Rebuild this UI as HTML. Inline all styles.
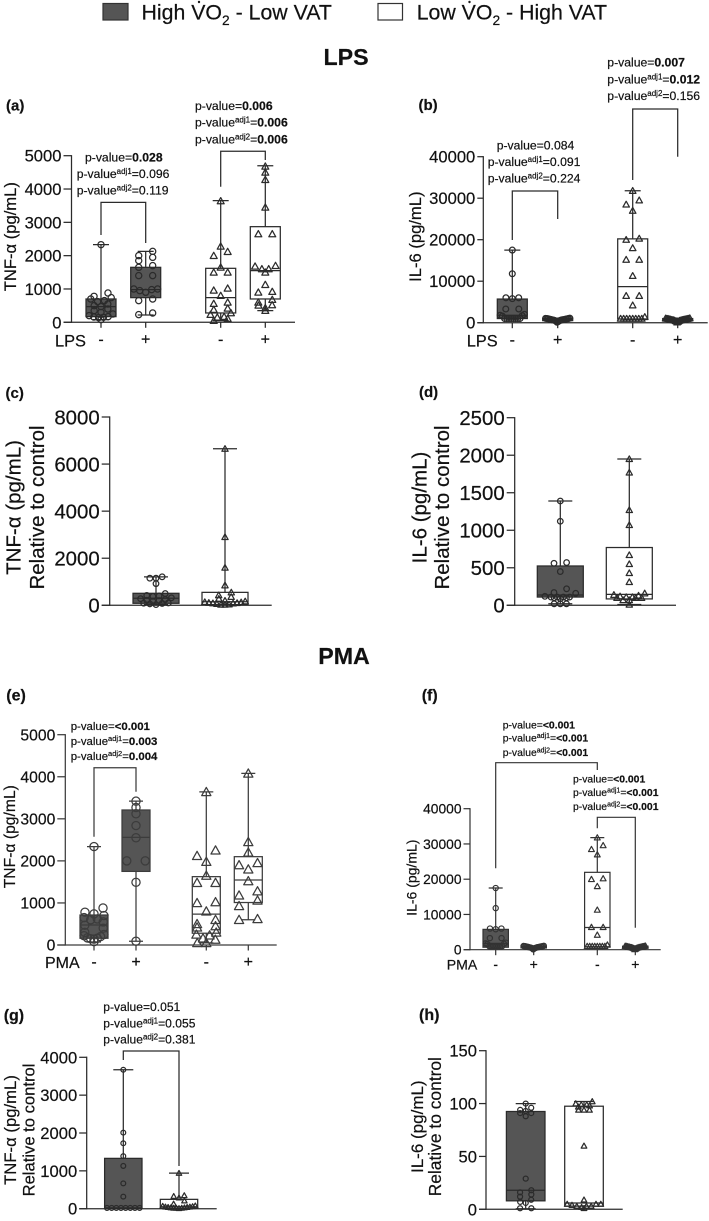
<!DOCTYPE html>
<html lang="en">
<head>
<meta charset="utf-8">
<title>TNF-α and IL-6 box plots</title>
<style>
html,body{margin:0;padding:0;background:#fff;}
svg{display:block;filter:blur(0.3px);}
text{font-family:"Liberation Sans",sans-serif;fill:#111;stroke:#111;stroke-width:0.2px;}
.pv .b{font-weight:bold;}
.lab{font-weight:bold;}
.ttl{font-weight:bold;font-size:23.2px;text-anchor:middle;}
</style>
</head>
<body>
<svg id="figure" width="709" height="1221" viewBox="0 0 709 1221" xmlns="http://www.w3.org/2000/svg">
<rect width="709" height="1221" fill="#fff"/>

<g>
  <g>
    <rect x="103" y="3.5" width="25" height="16.5" fill="#555" stroke="#333" stroke-width="1.2"/>
    <text x="141.5" y="19.3" font-size="21.3">High VO<tspan dy="5.5" font-size="13.8">2</tspan><tspan dy="-5.5"> - Low VAT</tspan></text>
    <circle cx="199" cy="2" r="1.2" fill="#1c1c1c"/>
  </g>
  <g>
    <rect x="378" y="3.5" width="24.5" height="16.5" fill="#fff" stroke="#333" stroke-width="1.2"/>
    <text x="416.7" y="19.3" font-size="21.3">Low VO<tspan dy="5.5" font-size="13.8">2</tspan><tspan dy="-5.5"> - High VAT</tspan></text>
    <circle cx="469.5" cy="2" r="1.2" fill="#1c1c1c"/>
  </g>
</g>

<text class="ttl" x="346" y="65">LPS</text>
<text class="ttl" x="344" y="664">PMA</text>

<text class="lab" x="6" y="110.5" font-size="15">(a)</text>
<text class="lab" x="418.5" y="110" font-size="15">(b)</text>
<text class="lab" x="5.5" y="398" font-size="15">(c)</text>
<text class="lab" x="419" y="397" font-size="15">(d)</text>
<text class="lab" x="6.3" y="700.5" font-size="16">(e)</text>
<text class="lab" x="421.7" y="700.5" font-size="16">(f)</text>
<text class="lab" x="3.7" y="1020.5" font-size="16">(g)</text>
<text class="lab" x="419" y="1020" font-size="16">(h)</text>

<g id="panel-a">
  <text transform="translate(16,236.7) rotate(-90)" text-anchor="middle" font-size="16.6">TNF-α (pg/mL)</text>
  <text x="55" y="346.7" font-size="16.4">LPS</text>
  <g class="pv" font-size="12.2">
    <text x="85" y="161.7">p-value=<tspan class="b">0.028</tspan></text>
    <text x="76.7" y="178">p-value<tspan dy="-4" font-size="8">adj1</tspan><tspan dy="4">=0.096</tspan></text>
    <text x="76.7" y="194.5">p-value<tspan dy="-4" font-size="8">adj2</tspan><tspan dy="4">=0.119</tspan></text>
  </g>
  <g class="pv" font-size="12.2">
    <text x="195" y="110">p-value=<tspan class="b">0.006</tspan></text>
    <text x="195" y="126.7">p-value<tspan dy="-4" font-size="8">adj1</tspan><tspan dy="4">=</tspan><tspan class="b">0.006</tspan></text>
    <text x="195" y="143.3">p-value<tspan dy="-4" font-size="8">adj2</tspan><tspan dy="4">=</tspan><tspan class="b">0.006</tspan></text>
  </g>
</g>

<g id="panel-b">
  <text transform="translate(421,236.7) rotate(-90)" text-anchor="middle" font-size="16.6">IL-6 (pg/mL)</text>
  <text x="466.7" y="346.7" font-size="16.4">LPS</text>
  <g class="pv" font-size="12.2">
    <text x="496.7" y="149.3">p-value=0.084</text>
    <text x="487.7" y="166">p-value<tspan dy="-4" font-size="8">adj1</tspan><tspan dy="4">=0.091</tspan></text>
    <text x="487.7" y="182.7">p-value<tspan dy="-4" font-size="8">adj2</tspan><tspan dy="4">=0.224</tspan></text>
  </g>
  <g class="pv" font-size="12.2">
    <text x="607.3" y="66.7">p-value=<tspan class="b">0.007</tspan></text>
    <text x="607.3" y="83.3">p-value<tspan dy="-4" font-size="8">adj1</tspan><tspan dy="4">=</tspan><tspan class="b">0.012</tspan></text>
    <text x="607.3" y="100">p-value<tspan dy="-4" font-size="8">adj2</tspan><tspan dy="4">=0.156</tspan></text>
  </g>
</g>

<g id="panel-c">
  <text transform="translate(20.7,507.5) rotate(-90)" text-anchor="middle" font-size="20.5">TNF-α (pg/mL)</text>
  <text transform="translate(44,507.5) rotate(-90)" text-anchor="middle" font-size="20.5">Relative to control</text>
</g>

<g id="panel-d">
  <text transform="translate(426.7,507.5) rotate(-90)" text-anchor="middle" font-size="20.5">IL-6 (pg/mL)</text>
  <text transform="translate(449,507.5) rotate(-90)" text-anchor="middle" font-size="20.5">Relative to control</text>
</g>

<g id="panel-e">
  <text transform="translate(15,836.7) rotate(-90)" text-anchor="middle" font-size="15.7">TNF-α (pg/mL)</text>
  <text x="45" y="968" font-size="16">PMA</text>
  <g class="pv" font-size="11.4">
    <text x="70.7" y="730">p-value=<tspan class="b">&lt;0.001</tspan></text>
    <text x="70.7" y="745">p-value<tspan dy="-4" font-size="7.5">adj1</tspan><tspan dy="4">=</tspan><tspan class="b">0.003</tspan></text>
    <text x="70.7" y="760">p-value<tspan dy="-4" font-size="7.5">adj2</tspan><tspan dy="4">=</tspan><tspan class="b">0.004</tspan></text>
  </g>
</g>

<g id="panel-f">
  <text transform="translate(416.7,877.7) rotate(-90)" text-anchor="middle" font-size="14">IL-6 (pg/mL)</text>
  <text x="446.7" y="969.3" font-size="14.1">PMA</text>
  <g class="pv" font-size="10.4">
    <text x="502.7" y="728.3">p-value=<tspan class="b">&lt;0.001</tspan></text>
    <text x="502.7" y="741.7">p-value<tspan dy="-3.5" font-size="7">adj1</tspan><tspan dy="3.5">=</tspan><tspan class="b">&lt;0.001</tspan></text>
    <text x="502.7" y="756">p-value<tspan dy="-3.5" font-size="7">adj2</tspan><tspan dy="3.5">=</tspan><tspan class="b">&lt;0.001</tspan></text>
  </g>
  <g class="pv" font-size="10.4">
    <text x="573" y="782.3">p-value=<tspan class="b">&lt;0.001</tspan></text>
    <text x="573" y="796">p-value<tspan dy="-3.5" font-size="7">adj1</tspan><tspan dy="3.5">=</tspan><tspan class="b">&lt;0.001</tspan></text>
    <text x="573" y="810">p-value<tspan dy="-3.5" font-size="7">adj2</tspan><tspan dy="3.5">=</tspan><tspan class="b">&lt;0.001</tspan></text>
  </g>
</g>

<g id="panel-g">
  <text transform="translate(16,1130) rotate(-90)" text-anchor="middle" font-size="16.7">TNF-α (pg/mL)</text>
  <text transform="translate(34.3,1130) rotate(-90)" text-anchor="middle" font-size="16.6">Relative to control</text>
  <g class="pv" font-size="12.1">
    <text x="103.3" y="1011">p-value=0.051</text>
    <text x="103.3" y="1027.3">p-value<tspan dy="-4" font-size="8">adj1</tspan><tspan dy="4">=0.055</tspan></text>
    <text x="103.3" y="1043.3">p-value<tspan dy="-4" font-size="8">adj2</tspan><tspan dy="4">=0.381</tspan></text>
  </g>
</g>

<g id="panel-h">
  <text transform="translate(423,1126.7) rotate(-90)" text-anchor="middle" font-size="17">IL-6 (pg/mL)</text>
  <text transform="translate(441,1126.7) rotate(-90)" text-anchor="middle" font-size="17.4">Relative to control</text>
</g>
</svg>

<script>
// ---------- Panel data ----------
const fourCategories = ['-', '+', '-', '+'];
const twoCategories = ['', ''];

const aTicks = [0, 1000, 2000, 3000, 4000, 5000];
const aMin = [80, 220, 50, 350];
const aQ1 = [170, 740, 280, 700];
const aMedian = [470, 980, 740, 1550];
const aQ3 = [700, 1650, 1620, 2870];
const aMax = [2330, 2130, 3650, 4700];
const aPoints = [
  [2330, 880, 780, 740, 700, 650, 620, 550, 500, 470, 400, 350, 300, 250, 200, 170, 160, 150, 140, 80],
  [2130, 2000, 1950, 1850, 1700, 1650, 1400, 1400, 1000, 1000, 980, 950, 900, 700, 650, 280, 230],
  [3640, 2280, 2120, 2000, 1650, 1500, 1500, 1020, 960, 800, 600, 560, 420, 380, 280, 230, 170, 150, 110, 50],
  [4680, 4500, 4280, 3450, 2650, 2650, 1700, 1680, 1600, 1600, 1500, 1130, 920, 900, 680, 600, 520, 510, 430, 350]
];
const aBrackets = [[0, 1, 3601, 2620, 2380], [2, 3, 5132, 4070, 4871]];

const bTicks = [0, 10000, 20000, 30000, 40000];
const bMin = [900, 100, 800, 100];
const bQ1 = [1000, 500, 900, 500];
const bMedian = [1800, 800, 8700, 800];
const bQ3 = [5700, 1000, 20200, 1000];
const bMax = [17500, 1100, 31800, 1100];
const bPoints = [
  [17500, 11800, 6000, 6000, 5800, 3300, 3300, 2000, 1800, 1700, 1600, 1000, 1000, 1000, 1000, 1000, 1000, 1000, 1000],
  [1100, 1050, 1000, 1000, 950, 950, 900, 850, 800, 800, 750, 700, 700, 650, 600, 550, 500, 400, 300, 100],
  [31800, 29500, 28500, 27000, 20300, 20000, 18000, 15200, 15200, 11300, 6500, 6500, 4200, 1400, 1000, 1000, 1000, 1000, 1000, 1000, 1000, 1000],
  [1100, 1050, 1000, 1000, 950, 950, 900, 850, 800, 800, 750, 700, 700, 650, 600, 550, 500, 400, 300, 100]
];
const bBrackets = [[0, 1, 31735, 19928, 24988], [2, 3, 51494, 34386, 40000]];

const cTicks = [0, 2000, 4000, 6000, 8000];
const cMin = [30, 30];
const cQ1 = [85, 30];
const cMedian = [300, 150];
const cQ3 = [510, 550];
const cMax = [1210, 6650];
const cPoints = [
  [1210, 1150, 1150, 920, 500, 420, 400, 380, 320, 280, 250, 210, 200, 170, 100, 90, 80, 60, 30],
  [6650, 2900, 1600, 850, 550, 430, 360, 280, 200, 170, 140, 130, 110, 100, 90, 80, 60, 40, 30, 30]
];

const dTicks = [0, 500, 1000, 1500, 2000, 2500];
const dMin = [20, 10];
const dQ1 = [110, 85];
const dMedian = [138, 146];
const dQ3 = [524, 770];
const dMax = [1390, 1950];
const dPoints = [
  [1390, 1120, 570, 560, 450, 220, 170, 160, 120, 110, 110, 110, 110, 100, 100, 90, 20, 20, 20],
  [1950, 1770, 1270, 1070, 670, 550, 430, 310, 160, 140, 130, 120, 110, 110, 100, 100, 100, 70, 70, 10]
];

const eTicks = [0, 1000, 2000, 3000, 4000, 5000];
const eMin = [70, 90, 50, 600];
const eQ1 = [160, 1750, 280, 1010];
const eMedian = [475, 2560, 735, 1545];
const eQ3 = [713, 3210, 1625, 2100];
const eMax = [2340, 3420, 3640, 4080];
const ePoints = [
  [2340, 880, 780, 740, 700, 650, 620, 600, 550, 470, 400, 300, 250, 220, 200, 170, 160, 150, 140, 80],
  [3420, 3270, 3120, 2840, 2550, 2000, 2000, 1490, 90],
  [3640, 2250, 2120, 1980, 1650, 1480, 1480, 1020, 1000, 800, 600, 500, 450, 420, 300, 250, 230, 160, 130, 50, 50],
  [4080, 2450, 2200, 1950, 1900, 1800, 1520, 1280, 1180, 1060, 930, 620, 600]
];
const eBrackets = [[0, 1, 4215, 2575, 3645]];

const fTicks = [0, 10000, 20000, 30000, 40000];
const fMin = [900, 100, 800, 100];
const fQ1 = [700, 500, 850, 500];
const fMedian = [1800, 800, 6300, 800];
const fQ3 = [5770, 1000, 21950, 1000];
const fMax = [17500, 1100, 31800, 1100];
const fPoints = [
  [17500, 11800, 6000, 6000, 5800, 3300, 3300, 2000, 1800, 1700, 1600, 1000, 1000, 1000, 1000, 1000, 1000, 1000, 1000],
  [1100, 1050, 1000, 1000, 950, 950, 900, 850, 800, 800, 750, 700, 700, 650, 600, 550, 500, 400, 300, 100],
  [31800, 29600, 28500, 27000, 20200, 20000, 18000, 11300, 6400, 6400, 4200, 1400, 1000, 1000, 1000, 1000, 1000, 1000, 1000, 1000],
  [1100, 1050, 1000, 1000, 950, 950, 900, 850, 800, 800, 750, 700, 700, 650, 600, 550, 500, 400, 300, 100]
];
const fBrackets = [[0, 2, 53050, 23092, 50979], [2, 3, 37560, 34440, 6241]];

const gTicks = [0, 1000, 2000, 3000, 4000];
const gMin = [20, 10];
const gQ1 = [20, 10];
const gMedian = [20, 50];
const gQ3 = [1330, 247];
const gMax = [3670, 940];
const gPoints = [
  [3670, 2010, 1730, 1390, 1130, 670, 320, 20, 20, 20, 20, 20, 20, 20, 20],
  [940, 350, 330, 290, 210, 130, 80, 70, 60, 50, 50, 40, 40, 30, 30, 20, 20, 20, 10]
];
const gBrackets = [[0, 1, 4166, 3929, 1128]];

const hTicks = [0, 50, 100, 150];
const hMin = [0.5, 1];
const hQ1 = [8, 3];
const hMedian = [18, 6];
const hQ3 = [92.5, 97.5];
const hMax = [100, 102];
const hPoints = [
  [100, 96, 94, 93, 91, 91, 88, 29, 18, 16, 14, 12, 9, 7, 6, 1, 1],
  [102, 100, 99, 99, 98, 97, 94, 94, 94, 60, 9, 5, 5, 5, 4, 3, 3, 3, 2, 1]
];

// ---------- Rendering ----------
const SVGNS = 'http://www.w3.org/2000/svg';
function mk(tag, attrs, parent) {
  const el = document.createElementNS(SVGNS, tag);
  for (const k in attrs) el.setAttribute(k, attrs[k]);
  parent.appendChild(el);
  return el;
}

// Lay points out as rows of a swarm; within a row the lowest values sit
// at the centre and the highest at the edges.
function swarm(values, y, r, maxOff) {
  const sorted = values.slice().sort((p, q) => q - p);
  const rows = [];
  let row = null;
  sorted.forEach(v => {
    const py = y(v);
    if (!row || py - row.start > r * 1.5) {
      row = { start: py, items: [] };
      rows.push(row);
    }
    row.items.push(v);
  });
  const out = [];
  rows.forEach(rw => {
    const n = rw.items.length;
    let s = r * 2.2;
    if (n === 2) s = r * 4.5;
    if (n > 1) s = Math.min(s, 2 * maxOff / (n - 1));
    const offsets = [];
    for (let i = 0; i < n; i++) offsets.push((i - (n - 1) / 2) * s);
    offsets.sort((p, q) => Math.abs(p) - Math.abs(q));
    const ascending = rw.items.slice().reverse();
    ascending.forEach((v, i) => out.push({ value: v, off: offsets[i] }));
  });
  return out;
}

function drawPanel(id, layout, data) {
  const root = document.getElementById(id);
  const y = v => layout.y0 - v / layout.yMax * (layout.y0 - layout.yTop);
  const x = i => layout.cats[i];
  const ink = layout.ink;
  const sw = layout.sw;

  const axes = mk('g', { fill: 'none', stroke: ink, 'stroke-width': sw }, root);
  
  

  const yAxis = mk('line', { x1: layout.x0, x2: layout.x0, y1: layout.yTop - sw / 2, y2: layout.y0 + sw / 2 }, axes);
  
  

  const xAxis = mk('line', { x1: layout.x0 - layout.tick, x2: layout.xEnd, y1: layout.y0, y2: layout.y0 }, axes);
  
  

  data.ticks.forEach(t => {
    const tk = mk('line', { x1: layout.x0 - layout.tick, x2: layout.x0, y1: y(t), y2: y(t) }, axes);
    
    

    const lb = mk('text', { x: layout.x0 - layout.tick - 2, y: y(t) + layout.font * 0.36, 'text-anchor': 'end', 'font-size': layout.font }, root);
    lb.textContent = String(t);
    
    
  });

  data.categories.forEach((c, i) => {
    if (!c) return;
    const tk = mk('line', { x1: x(i), x2: x(i), y1: layout.y0, y2: layout.y0 + 5.5 }, axes);
    
    

    const lb = mk('text', { x: x(i), y: layout.xLabelY, 'text-anchor': 'middle', 'font-size': layout.xFont }, root);
    lb.textContent = c;
    
    
  });

  data.points.forEach((pts, i) => {
    const high = layout.groups[i] === 0;
    const g = mk('g', {}, root);
    
    

    const wh = mk('path', {
      d: 'M' + x(i) + ' ' + y(data.max[i]) + 'V' + y(data.min[i]) +
         'M' + (x(i) - layout.cap) + ' ' + y(data.max[i]) + 'H' + (x(i) + layout.cap) +
         'M' + (x(i) - layout.cap) + ' ' + y(data.min[i]) + 'H' + (x(i) + layout.cap),
      fill: 'none', stroke: ink, 'stroke-width': sw
    }, g);
    
    

    const rc = mk('rect', {
      x: x(i) - layout.half, y: y(data.q3[i]), width: layout.half * 2,
      height: y(data.q1[i]) - y(data.q3[i]),
      fill: high ? '#555555' : '#ffffff', stroke: ink, 'stroke-width': sw
    }, g);
    
    

    const md = mk('line', { x1: x(i) - layout.half, x2: x(i) + layout.half, y1: y(data.median[i]), y2: y(data.median[i]), stroke: ink, 'stroke-width': sw }, g);
    
    

    swarm(pts, y, layout.r, layout.half - layout.r).forEach(p => {
      const px = x(i) + p.off;
      const py = y(p.value);
      const r = layout.r;
      let mark;
      if (high) {
        mark = mk('circle', { cx: px, cy: py, r: r, fill: 'none', stroke: ink, 'stroke-width': sw }, g);
      } else {
        mark = mk('path', {
          d: 'M' + px + ' ' + (py - r * 1.1) + 'L' + (px + r * 1.12) + ' ' + (py + r * 0.9) + 'L' + (px - r * 1.12) + ' ' + (py + r * 0.9) + 'Z',
          fill: 'none', stroke: ink, 'stroke-width': sw, 'stroke-linejoin': 'round'
        }, g);
      }
      
      
    });
  });

  (data.brackets || []).forEach(b => {
    const br = mk('path', {
      d: 'M' + x(b[0]) + ' ' + y(b[3]) + 'V' + y(b[2]) + 'H' + x(b[1]) + 'V' + y(b[4]),
      fill: 'none', stroke: ink, 'stroke-width': sw
    }, root);
    
    
  });
}

drawPanel('panel-a',
  { x0: 71.5, xEnd: 295, y0: 322.3, yTop: 155.7, yMax: 5000, tick: 8, font: 16.6, xFont: 16, xLabelY: 344.5, cats: [101, 145.7, 220.7, 265.3], groups: [0, 0, 1, 1], half: 15, cap: 8, r: 3.1, ink: '#2b2b2b', sw: 1.25 },
  { categories: fourCategories, ticks: aTicks, min: aMin, q1: aQ1, median: aMedian, q3: aQ3, max: aMax, points: aPoints, brackets: aBrackets });

drawPanel('panel-b',
  { x0: 483.3, xEnd: 707.7, y0: 322.7, yTop: 156.7, yMax: 40000, tick: 6, font: 16.6, xFont: 16, xLabelY: 345, cats: [512.3, 557.7, 632.7, 677.7], groups: [0, 0, 1, 1], half: 15, cap: 8, r: 2.9, ink: '#2b2b2b', sw: 1.25 },
  { categories: fourCategories, ticks: bTicks, min: bMin, q1: bQ1, median: bMedian, q3: bQ3, max: bMax, points: bPoints, brackets: bBrackets });

drawPanel('panel-c',
  { x0: 109.7, xEnd: 271.7, y0: 605.3, yTop: 417, yMax: 8000, tick: 8, font: 20.4, xFont: 16, xLabelY: 0, cats: [156, 225], groups: [0, 1], half: 23, cap: 12, r: 2.8, ink: '#2b2b2b', sw: 1.25 },
  { categories: twoCategories, ticks: cTicks, min: cMin, q1: cQ1, median: cMedian, q3: cQ3, max: cMax, points: cPoints });

drawPanel('panel-d',
  { x0: 514.7, xEnd: 676, y0: 605.3, yTop: 417.7, yMax: 2500, tick: 8, font: 20.4, xFont: 16, xLabelY: 0, cats: [560.3, 629.3], groups: [0, 1], half: 23, cap: 12, r: 2.8, ink: '#2b2b2b', sw: 1.25 },
  { categories: twoCategories, ticks: dTicks, min: dMin, q1: dQ1, median: dMedian, q3: dQ3, max: dMax, points: dPoints });

drawPanel('panel-e',
  { x0: 65.3, xEnd: 276.7, y0: 945, yTop: 734.7, yMax: 5000, tick: 8, font: 15.7, xFont: 16, xLabelY: 967, cats: [94, 136, 206.3, 248.3], groups: [0, 0, 1, 1], half: 14, cap: 7, r: 4.1, ink: '#3c3c3c', sw: 1.25 },
  { categories: fourCategories, ticks: eTicks, min: eMin, q1: eQ1, median: eMedian, q3: eQ3, max: eMax, points: ePoints, brackets: eBrackets });

drawPanel('panel-f',
  { x0: 470, xEnd: 660.7, y0: 949.7, yTop: 808.7, yMax: 40000, tick: 6.5, font: 13.8, xFont: 14, xLabelY: 969, cats: [495.7, 533.7, 597.3, 635.3], groups: [0, 0, 1, 1], half: 12.7, cap: 7, r: 2.6, ink: '#333333', sw: 1.2 },
  { categories: fourCategories, ticks: fTicks, min: fMin, q1: fQ1, median: fMedian, q3: fQ3, max: fMax, points: fPoints, brackets: fBrackets });

drawPanel('panel-g',
  { x0: 86.7, xEnd: 216.7, y0: 1208.7, yTop: 1057.3, yMax: 4000, tick: 7.5, font: 16.6, xFont: 16, xLabelY: 0, cats: [123.3, 179], groups: [0, 1], half: 18.7, cap: 10, r: 2.4, ink: '#2b2b2b', sw: 1.25 },
  { categories: twoCategories, ticks: gTicks, min: gMin, q1: gQ1, median: gMedian, q3: gQ3, max: gMax, points: gPoints, brackets: gBrackets });

drawPanel('panel-h',
  { x0: 486, xEnd: 622.7, y0: 1209.3, yTop: 1050.7, yMax: 150, tick: 7, font: 16.6, xFont: 16, xLabelY: 0, cats: [525.7, 584], groups: [0, 1], half: 19.3, cap: 10, r: 2.5, ink: '#2b2b2b', sw: 1.25 },
  { categories: twoCategories, ticks: hTicks, min: hMin, q1: hQ1, median: hMedian, q3: hQ3, max: hMax, points: hPoints });
</script>
</body>
</html>
